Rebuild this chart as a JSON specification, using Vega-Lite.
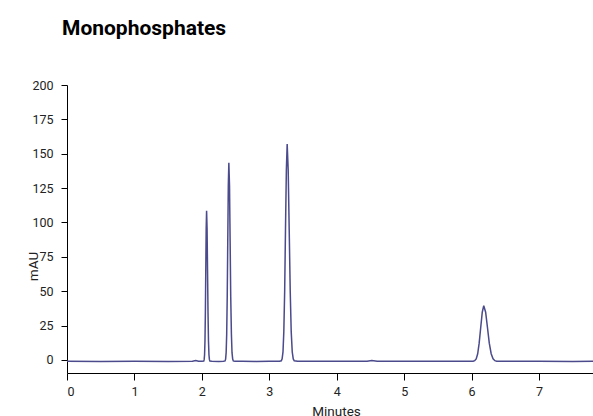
{
  "$schema": "https://vega.github.io/schema/vega-lite/v6.json",
  "width": 526,
  "height": 288,
  "autosize": {"type": "none"},
  "padding": {"left": 67, "top": 85, "right": 0, "bottom": 43},
  "title": {
    "text": "Monophosphates",
    "anchor": "start",
    "frame": "group",
    "dx": -5,
    "offset": 40,
    "font": "Roboto",
    "fontSize": 21,
    "fontWeight": "bold",
    "color": "#000000"
  },
  "config": {
    "view": {"stroke": null},
    "axis": {
      "labelFont": "Roboto",
      "titleFont": "Roboto",
      "labelFontSize": 12.5,
      "titleFontSize": 13.5,
      "titleFontWeight": "normal",
      "labelColor": "#222222",
      "titleColor": "#222222",
      "domainColor": "#000000",
      "tickColor": "#000000",
      "grid": false
    }
  },
  "data": {
    "values": [
      {"t": 0, "mAU": -1},
      {"t": 0.5, "mAU": -1.1},
      {"t": 1.0, "mAU": -1},
      {"t": 1.5, "mAU": -1.05},
      {"t": 1.86, "mAU": -1},
      {"t": 1.91, "mAU": -0.4},
      {"t": 1.95, "mAU": -1},
      {"t": 2.0, "mAU": -0.9},
      {"t": 2.028, "mAU": -0.76},
      {"t": 2.034, "mAU": 0.2},
      {"t": 2.04, "mAU": 3.8},
      {"t": 2.046, "mAU": 13.8},
      {"t": 2.052, "mAU": 34.6},
      {"t": 2.058, "mAU": 65.4},
      {"t": 2.064, "mAU": 95.6},
      {"t": 2.07, "mAU": 108.5},
      {"t": 2.077, "mAU": 95.6},
      {"t": 2.084, "mAU": 65.4},
      {"t": 2.091, "mAU": 34.6},
      {"t": 2.098, "mAU": 13.8},
      {"t": 2.105, "mAU": 3.8},
      {"t": 2.112, "mAU": 0.2},
      {"t": 2.119, "mAU": -0.76},
      {"t": 2.15, "mAU": -1},
      {"t": 2.25, "mAU": -1.1},
      {"t": 2.32, "mAU": -0.9},
      {"t": 2.344, "mAU": -0.68},
      {"t": 2.352, "mAU": 0.6},
      {"t": 2.36, "mAU": 5.3},
      {"t": 2.368, "mAU": 18.6},
      {"t": 2.376, "mAU": 45.9},
      {"t": 2.384, "mAU": 86.6},
      {"t": 2.392, "mAU": 126.5},
      {"t": 2.4, "mAU": 143.5},
      {"t": 2.41, "mAU": 126.5},
      {"t": 2.419, "mAU": 86.6},
      {"t": 2.428, "mAU": 45.9},
      {"t": 2.438, "mAU": 18.6},
      {"t": 2.447, "mAU": 5.3},
      {"t": 2.457, "mAU": 0.6},
      {"t": 2.466, "mAU": -0.68},
      {"t": 2.49, "mAU": -0.95},
      {"t": 2.6, "mAU": -1},
      {"t": 2.8, "mAU": -1.05},
      {"t": 3.0, "mAU": -1},
      {"t": 3.15, "mAU": -0.9},
      {"t": 3.178, "mAU": -0.65},
      {"t": 3.19, "mAU": 0.75},
      {"t": 3.203, "mAU": 5.9},
      {"t": 3.215, "mAU": 20.4},
      {"t": 3.228, "mAU": 50.3},
      {"t": 3.24, "mAU": 94.8},
      {"t": 3.253, "mAU": 138.4},
      {"t": 3.265, "mAU": 157},
      {"t": 3.28, "mAU": 138.4},
      {"t": 3.295, "mAU": 94.8},
      {"t": 3.31, "mAU": 50.3},
      {"t": 3.325, "mAU": 20.4},
      {"t": 3.34, "mAU": 5.9},
      {"t": 3.355, "mAU": 0.75},
      {"t": 3.37, "mAU": -0.65},
      {"t": 3.42, "mAU": -0.9},
      {"t": 3.5, "mAU": -1},
      {"t": 4.0, "mAU": -1},
      {"t": 4.45, "mAU": -1},
      {"t": 4.52, "mAU": -0.5},
      {"t": 4.6, "mAU": -1},
      {"t": 5.0, "mAU": -1},
      {"t": 5.5, "mAU": -0.95},
      {"t": 5.95, "mAU": -1},
      {"t": 6.022, "mAU": -0.9},
      {"t": 6.045, "mAU": -0.55},
      {"t": 6.068, "mAU": 0.78},
      {"t": 6.09, "mAU": 4.5},
      {"t": 6.112, "mAU": 12.2},
      {"t": 6.135, "mAU": 23.6},
      {"t": 6.158, "mAU": 34.7},
      {"t": 6.18, "mAU": 39.5},
      {"t": 6.208, "mAU": 34.7},
      {"t": 6.235, "mAU": 23.6},
      {"t": 6.262, "mAU": 12.2},
      {"t": 6.29, "mAU": 4.5},
      {"t": 6.318, "mAU": 0.78},
      {"t": 6.345, "mAU": -0.55},
      {"t": 6.372, "mAU": -0.9},
      {"t": 6.45, "mAU": -1},
      {"t": 7.0, "mAU": -1},
      {"t": 7.5, "mAU": -1.05},
      {"t": 7.8, "mAU": -1}
    ]
  },
  "mark": {"type": "line", "color": "#4a4a8c", "strokeWidth": 1.5, "clip": true},
  "encoding": {
    "x": {
      "field": "t",
      "type": "quantitative",
      "scale": {"domain": [0, 7.8], "nice": false, "zero": false},
      "axis": {
        "title": "Minutes",
        "values": [0, 1, 2, 3, 4, 5, 6, 7],
        "format": "d",
        "tickSize": 7,
        "labelPadding": 5,
        "titleX": 269,
        "titleY": 38,
        "titleAlign": "center",
        "titleBaseline": "middle"
      }
    },
    "y": {
      "field": "mAU",
      "type": "quantitative",
      "scale": {"domain": [-9.5, 200], "nice": false, "zero": false},
      "axis": {
        "title": "mAU",
        "values": [0, 25, 50, 75, 100, 125, 150, 175, 200],
        "tickSize": 6,
        "labelPadding": 8,
        "titleX": -34,
        "titleY": 181,
        "titleAngle": -90,
        "titleAlign": "center",
        "titleBaseline": "middle"
      }
    }
  }
}
